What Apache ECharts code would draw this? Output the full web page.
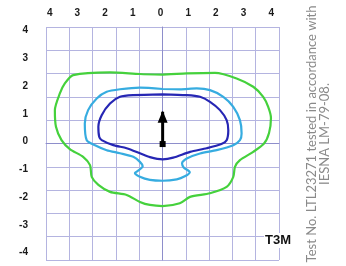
<!DOCTYPE html>
<html><head><meta charset="utf-8">
<script src="https://cdn.jsdelivr.net/npm/echarts@6/dist/echarts.min.js"></script>
<style>html,body{margin:0;padding:0;background:#fff}#c{width:346px;height:266px}</style>
</head><body><div id="c"></div>
<script>
// Tick labels (mounting heights)
const xTicks = [-4,-3,-2,-1,0,1,2,3,4];
const yTicks = [-4,-3,-2,-1,0,1,2,3,4];
// Isofootcandle contours, [x, y] in mounting heights
const greenContour = [[0,2.50],[0.87,2.54],[1.89,2.56],[2.67,2.36],[3.27,2.06],[3.63,1.70],[3.81,1.34],[3.91,0.94],[3.84,0.40],[3.66,0.02],[3.27,-0.28],[2.79,-0.58],[2.61,-0.82],[2.55,-1.18],[2.31,-1.54],[1.71,-1.77],[0.99,-1.90],[0.62,-2.13],[0,-2.23],[-0.46,-2.19],[-0.82,-2.08],[-1.30,-1.83],[-1.90,-1.72],[-2.32,-1.47],[-2.56,-1.18],[-2.62,-0.76],[-2.87,-0.46],[-3.35,-0.18],[-3.65,0.14],[-3.85,0.62],[-3.89,1.22],[-3.71,1.82],[-3.53,2.18],[-3.23,2.48],[-1.90,2.58],[-0.82,2.52],[0,2.50]];
const lightBlueContour = [[0,1.98],[0.62,1.97],[1.23,2.00],[1.71,1.94],[2.19,1.70],[2.55,1.34],[2.79,0.86],[2.85,0.38],[2.79,0.14],[2.55,-0.04],[1.95,-0.22],[1.35,-0.34],[0.87,-0.52],[0.70,-0.69],[0.76,-0.84],[0.98,-1.01],[0.80,-1.16],[0.51,-1.27],[0,-1.32],[-0.46,-1.29],[-0.82,-1.18],[-1.00,-1.04],[-0.92,-0.98],[-0.72,-0.80],[-0.82,-0.64],[-1.06,-0.46],[-1.54,-0.33],[-2.02,-0.22],[-2.44,-0.04],[-2.74,0.14],[-2.81,0.74],[-2.69,1.22],[-2.38,1.64],[-2.02,1.88],[-1.54,1.97],[-0.82,2.03],[0,1.98]];
const darkBlueContour = [[0,1.79],[0.87,1.76],[1.35,1.70],[1.71,1.52],[2.07,1.22],[2.31,0.86],[2.37,0.50],[2.31,0.14],[2.12,0.00],[1.59,-0.15],[0.99,-0.28],[0.38,-0.49],[0,-0.55],[-0.46,-0.47],[-0.82,-0.33],[-1.30,-0.15],[-1.78,-0.04],[-2.20,0.14],[-2.29,0.26],[-2.32,0.62],[-2.20,1.04],[-1.90,1.46],[-1.54,1.70],[-1.06,1.76],[0,1.79]];
// Arrow (luminaire orientation)
const arrowStart = [0, 0];
const arrowEnd = [0, 1.16];
const typeLabel = 'T3M';
const noteText = 'Test No. LTL23271 tested in accordance with\nIESNA LM-79-08.';

const chart = echarts.init(document.getElementById('c'), null, {renderer:'canvas'});
const labelStyle = {fontFamily:'Liberation Sans, Arial, sans-serif', fontWeight:'bold', fontSize:10, color:'#1a1a1a'};
const contour = (data, color) => ({
  type:'line', xAxisIndex:0, yAxisIndex:0, data, smooth:0.25, showSymbol:false, silent:true,
  lineStyle:{color, width:2.2}, z:3
});
chart.setOption({
  animation:false,
  backgroundColor:'#fff',
  grid:{left:46, top:27, width:233, height:233, containLabel:false},
  xAxis:[
    {type:'value', min:-4.21, max:4.2, show:false},
    {type:'value', min:-5, max:5, interval:1, position:'top',
     axisLine:{show:true, lineStyle:{color:'#8e8ecb', width:1}}, axisTick:{show:false}, axisLabel:{show:false},
     splitLine:{show:true, lineStyle:{color:'#b4b4e0', width:1}}},
    {type:'value', min:-4.134, max:4.28, position:'top',
     axisLine:{show:false}, axisTick:{show:false}, splitLine:{show:false},
     axisLabel:Object.assign({customValues:xTicks, margin:9, formatter:v=>String(Math.abs(v))}, labelStyle)}
  ],
  yAxis:[
    {type:'value', min:-4.17, max:4.21, show:false},
    {type:'value', min:-5, max:5, interval:1, position:'left',
     axisLine:{show:true, lineStyle:{color:'#8e8ecb', width:1}}, axisTick:{show:false}, axisLabel:{show:false},
     splitLine:{show:true, lineStyle:{color:'#b4b4e0', width:1}}},
    {type:'value', min:-4.266, max:4.126, position:'left',
     axisLine:{show:false}, axisTick:{show:false}, splitLine:{show:false},
     axisLabel:Object.assign({customValues:yTicks, margin:18, formatter:v=>String(v)}, labelStyle)}
  ],
  title:{text:typeLabel, left:264, top:233, padding:[1,1,1,1], backgroundColor:'#fff',
    textStyle:{fontFamily:'Liberation Sans, Arial, sans-serif', fontWeight:'bold', fontSize:13, color:'#111'}},
  graphic:[{
    type:'text', x:318, y:134, rotation:Math.PI/2, z:10,
    style:{text:noteText, fontFamily:'Lato, sans-serif', fontSize:13, lineHeight:13, fill:'#8a8a8a',
      align:'center', verticalAlign:'middle'}
  }],
  series:[
    contour(greenContour, '#45d13c'),
    contour(lightBlueContour, '#36ace0'),
    contour(darkBlueContour, '#2626b4'),
    {type:'line', xAxisIndex:0, yAxisIndex:0, silent:true, z:5,
     lineStyle:{color:'#000', width:3}, itemStyle:{color:'#000'}, showSymbol:true,
     data:[
       {value:arrowStart, symbol:'rect', symbolSize:6},
       {value:arrowEnd, symbol:'triangle', symbolSize:[10,12], symbolOffset:[0,5]}
     ]}
  ]
});
</script></body></html>
